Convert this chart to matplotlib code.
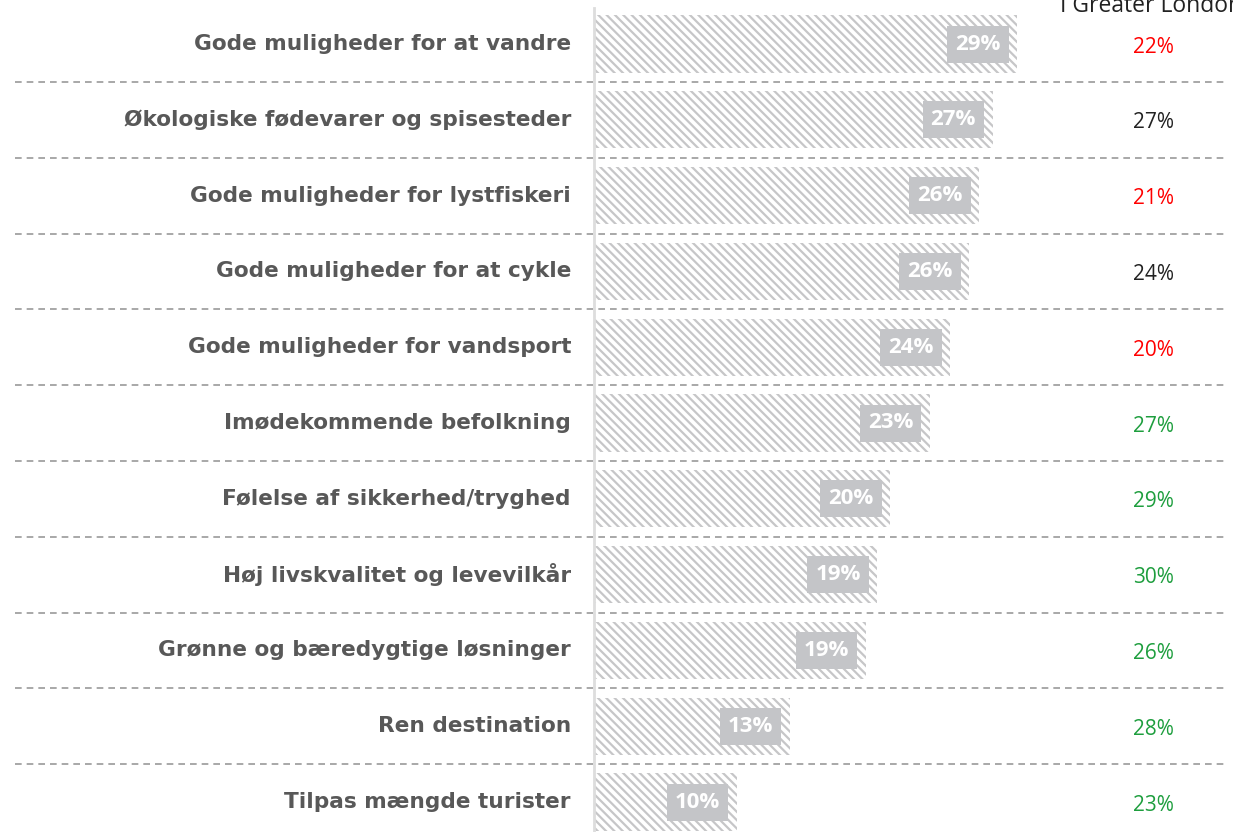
import matplotlib.pyplot as plt
import matplotlib as mpl

categories = [
    "Gode muligheder for at vandre",
    "Økologiske fødevarer og spisesteder",
    "Gode muligheder for lystfiskeri",
    "Gode muligheder for at cykle",
    "Gode muligheder for vandsport",
    "Imødekommende befolkning",
    "Følelse af sikkerhed/tryghed",
    "Høj livskvalitet og levevilkår",
    "Grønne og bæredygtige løsninger",
    "Ren destination",
    "Tilpas mængde turister",
]
values = [29.0, 27.3, 26.4, 25.7, 24.4, 23.0, 20.3, 19.4, 18.6, 13.4, 9.8]
value_labels = ["29%", "27%", "26%", "26%", "24%", "23%", "20%", "19%", "19%", "13%", "10%"]
london_labels = ["22%", "27%", "21%", "24%", "20%", "27%", "29%", "30%", "26%", "28%", "23%"]
london_status = ["low", "same", "low", "same", "low", "high", "high", "high", "high", "high", "high"]
header = "I Greater London"

status_colors = {"low": "#ff0000", "same": "#222222", "high": "#1e9e3e"}

W, H = 1233, 832
fig = plt.figure(figsize=(W / 100, H / 100), dpi=100)
px_per_unit = 14.6
x0_px = 594
right_px = 1228
ax = fig.add_axes([x0_px / W, 0, (right_px - x0_px) / W, 1])
ax.set_xlim(0, (right_px - x0_px) / px_per_unit)
row_px = 75.8
first_px = 44
top_row = -first_px / row_px
bottom_row = top_row + H / row_px
ax.set_ylim(bottom_row, top_row)
ax.axis("off")

mpl.rcParams["hatch.color"] = "#c6c6c8"
mpl.rcParams["hatch.linewidth"] = 1.6

ypos = list(range(len(categories)))
ax.barh(ypos, values, height=0.755, color="white", edgecolor="#c6c6c8",
        hatch="\\\\\\\\", linewidth=0)

fam = ["Open Sans", "DejaVu Sans"]
lab_fam = ["DejaVu Sans"]

for i, (v, lab) in enumerate(zip(values, value_labels)):
    ax.annotate(lab, xy=(v, i), xytext=(-12, 0), textcoords="offset points",
                ha="right", va="center", color="white", fontsize=16,
                fontweight="bold", family=fam,
                bbox=dict(boxstyle="square,pad=0.36", fc="#c4c5c8", ec="none"))

label_x = -(x0_px - 571) / px_per_unit
for i, c in enumerate(categories):
    ax.text(label_x, i, c, ha="right", va="center", fontsize=15.6,
            fontweight="bold", color="#585858", family=lab_fam, clip_on=False)

lon_x = (1153 - x0_px) / px_per_unit
for i, (lab, st) in enumerate(zip(london_labels, london_status)):
    ax.text(lon_x, i + 0.04, lab, ha="center", va="center", fontsize=15,
            color=status_colors[st], family=fam)

ax.text((1060 - x0_px) / px_per_unit, top_row + 12 / row_px, header,
        ha="left", va="baseline", fontsize=16.5, color="#222222", family=fam,
        clip_on=False)

sep_left = -(x0_px - 15) / px_per_unit
for i in range(len(categories) - 1):
    ax.plot([sep_left, ax.get_xlim()[1]], [i + 0.5, i + 0.5], color="#999999",
            linestyle=(0, (4, 3)), linewidth=1.2, clip_on=False)

ax.plot([0, 0], [top_row + 8 / row_px, bottom_row], color="#dddddd", linewidth=2,
        clip_on=False, zorder=5)

fig.savefig("out.png", dpi=100)
